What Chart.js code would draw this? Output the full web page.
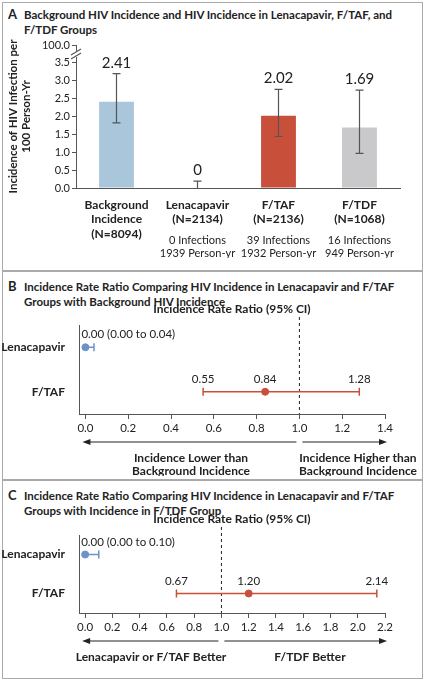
<!DOCTYPE html>
<html><head><meta charset="utf-8">
<script src="https://cdn.jsdelivr.net/npm/chart.js@4/dist/chart.umd.min.js"></script>
<style>
body{margin:0;background:#fff;font-family:Lato,sans-serif;color:#222}
#fig{position:relative;width:425px;height:680px}
.frame{position:absolute;left:2px;width:419px;border:1px solid #aaa}
.ttl{position:absolute;left:8px;font-size:11.5px;font-weight:bold;line-height:15px;white-space:nowrap}
.ttl span{display:inline-block;width:16px;font-size:13px}
.ttl div{margin-left:16px}
.box{position:absolute;left:0;width:425px}
</style></head><body>
<div id="fig">
<div class="frame" style="top:2px;height:267px"></div>
<div class="frame" style="top:271px;height:207px"></div>
<div class="frame" style="top:480px;height:197px"></div>
<div class="ttl" style="top:7px"><span>A</span>Background HIV Incidence and HIV Incidence in Lenacapavir, F/TAF, and<div>F/TDF Groups</div></div>
<div class="ttl" style="top:279px"><span>B</span>Incidence Rate Ratio Comparing HIV Incidence in Lenacapavir and F/TAF<div>Groups with Background HIV Incidence</div></div>
<div class="ttl" style="top:488px"><span>C</span>Incidence Rate Ratio Comparing HIV Incidence in Lenacapavir and F/TAF<div>Groups with Incidence in F/TDF Group</div></div>
<div class="box" style="top:30px;height:228px"><canvas id="chartA"></canvas></div>
<div class="box" style="top:300px;height:176px"><canvas id="chartB"></canvas></div>
<div class="box" style="top:510px;height:165px"><canvas id="chartC"></canvas></div>
</div>
<script>
// panel A
const groups = [['Background', 'Incidence', '(N=8094)'], ['Lenacapavir', '(N=2134)'], ['F/TAF', '(N=2136)'], ['F/TDF', '(N=1068)']];
const incidence = [2.41, 0, 2.02, 1.69];
const ciLow = [1.82, 0, 1.44, 0.97];
const ciHigh = [3.20, 0.19, 2.76, 2.74];
const barColors = ['#a9c6da', '#ffffff', '#c8503a', '#c9c9cb'];
const infections = [null, ['0 Infections', '1939 Person-yr'], ['39 Infections', '1932 Person-yr'], ['16 Infections', '949 Person-yr']];
const yTicksA = [0, 0.5, 1.0, 1.5, 2.0, 2.5, 3.0, 3.5];
const breakTop = 4.0; // shown as 100.0

// panels B and C
const rows = ['Lenacapavir', 'F/TAF'];
const irrB = [0.00, 0.84], lowB = [0.00, 0.55], highB = [0.04, 1.28];
const irrC = [0.00, 1.20], lowC = [0.00, 0.67], highC = [0.10, 2.14];
const rowColors = ['#6b93c8', '#c8503a'];

const FONT = 'Lato, sans-serif';
const INK = '#222', AXIS = '#555';
Chart.defaults.font.family = FONT;
Chart.defaults.color = INK;
Chart.defaults.animation = false;

const barExtras = {
  id: 'barExtras',
  afterDatasetsDraw(chart) {
    const { ctx, scales: { x, y } } = chart;
    ctx.save();
    ctx.strokeStyle = '#555'; ctx.lineWidth = 1.2;
    incidence.forEach((v, i) => {
      const px = x.getPixelForValue(i);
      const yl = y.getPixelForValue(ciLow[i]), yh = y.getPixelForValue(ciHigh[i]);
      ctx.beginPath();
      ctx.moveTo(px, yl); ctx.lineTo(px, yh);
      ctx.moveTo(px - 4, yh); ctx.lineTo(px + 4, yh);
      if (ciLow[i] > 0) { ctx.moveTo(px - 4, yl); ctx.lineTo(px + 4, yl); }
      ctx.stroke();
      ctx.fillStyle = INK; ctx.font = '15px ' + FONT; ctx.textAlign = 'center';
      ctx.fillText(i === 1 ? '0' : v.toFixed(2), px, yh - 6);
      if (infections[i]) {
        ctx.font = '11px ' + FONT;
        infections[i].forEach((t, k) => ctx.fillText(t, px, chart.chartArea.bottom + 56 + k * 13));
      }
    });
    // axis break
    const yb = y.getPixelForValue(3.75), xa = x.left;
    ctx.fillStyle = '#fff'; ctx.fillRect(xa - 4, yb - 3, 8, 6);
    ctx.beginPath();
    ctx.moveTo(xa - 5, yb + 1); ctx.lineTo(xa + 5, yb - 5);
    ctx.moveTo(xa - 5, yb + 5); ctx.lineTo(xa + 5, yb - 1);
    ctx.stroke();
    ctx.restore();
  }
};

new Chart(document.getElementById('chartA'), {
  type: 'bar',
  plugins: [barExtras],
  data: {
    labels: groups,
    datasets: [{ data: incidence, backgroundColor: barColors, barPercentage: 0.43, categoryPercentage: 1 }]
  },
  options: {
    responsive: true, maintainAspectRatio: false,
    layout: { padding: { top: 15, right: 25, left: 6, bottom: 0 } },
    plugins: { legend: { display: false }, tooltip: { enabled: false } },
    scales: {
      x: {
        grid: { display: false },
        border: { color: AXIS },
        ticks: { font: { size: 12, weight: 'bold' }, color: INK, padding: 2 },
        afterFit: s => { s.height = 70; }
      },
      y: {
        min: 0, max: breakTop,
        afterBuildTicks: s => { s.ticks = yTicksA.concat([breakTop]).map(v => ({ value: v })); },
        ticks: { font: { size: 11 }, color: INK, padding: 2,
          callback: v => v === breakTop ? '100.0' : v.toFixed(1) },
        grid: { drawOnChartArea: false, drawTicks: true, tickLength: 4, color: AXIS },
        border: { color: AXIS },
        title: { display: true, text: ['Incidence of HIV Infection per', '100 Person-Yr'],
          font: { size: 11.5, weight: 'bold' }, color: INK, padding: 0 },
        afterFit: s => { s.width = 70; }
      }
    }
  }
});

function forestPlugin(lowArr, highArr, estArr, labelRows, leftText, rightText) {
  return {
    id: 'forest',
    afterDatasetsDraw(chart) {
      const { ctx, chartArea, scales: { x, y } } = chart;
      ctx.save();
      // reference line at 1.0
      const x1 = x.getPixelForValue(1);
      ctx.strokeStyle = '#222'; ctx.lineWidth = 1; ctx.setLineDash([3, 3]);
      ctx.beginPath(); ctx.moveTo(x1, chartArea.top - 8); ctx.lineTo(x1, chartArea.bottom); ctx.stroke();
      ctx.setLineDash([]);
      ctx.font = 'bold 12px ' + FONT; ctx.fillStyle = INK; ctx.textAlign = 'center';
      ctx.fillText('Incidence Rate Ratio (95% CI)', (chartArea.left + chartArea.right) / 2, chartArea.top - 12);
      rows.forEach((r, i) => {
        const py = y.getPixelForValue(i);
        const xl = x.getPixelForValue(lowArr[i]), xh = x.getPixelForValue(highArr[i]);
        ctx.strokeStyle = rowColors[i]; ctx.lineWidth = 1.5;
        ctx.beginPath(); ctx.moveTo(xl, py); ctx.lineTo(xh, py);
        ctx.moveTo(xh, py - 4); ctx.lineTo(xh, py + 4);
        if (lowArr[i] > 0) { ctx.moveTo(xl, py - 4); ctx.lineTo(xl, py + 4); }
        ctx.stroke();
        ctx.font = '11.5px ' + FONT; ctx.fillStyle = INK;
        labelRows[i].forEach(([v, t]) => {
          ctx.textAlign = i === 0 ? 'left' : 'center';
          const px = x.getPixelForValue(v);
          ctx.fillText(t, i === 0 ? px - 4 : px, py - 9);
        });
      });
      // arrows
      const ay = chartArea.bottom + 28;
      const ax0 = x.getPixelForValue(0) - 3, ax1 = x.right + 2;
      ctx.strokeStyle = '#222'; ctx.fillStyle = '#222'; ctx.lineWidth = 1;
      ctx.beginPath(); ctx.moveTo(ax0 + 6, ay); ctx.lineTo(x1 - 3, ay);
      ctx.moveTo(x1 + 3, ay); ctx.lineTo(ax1 - 6, ay); ctx.stroke();
      ctx.beginPath(); ctx.moveTo(ax0, ay); ctx.lineTo(ax0 + 8, ay - 3); ctx.lineTo(ax0 + 8, ay + 3); ctx.fill();
      ctx.beginPath(); ctx.moveTo(ax1, ay); ctx.lineTo(ax1 - 8, ay - 3); ctx.lineTo(ax1 - 8, ay + 3); ctx.fill();
      ctx.font = 'bold 12px ' + FONT; ctx.fillStyle = INK; ctx.textAlign = 'center';
      leftText.lines.forEach((t, k) => ctx.fillText(t, leftText.x, ay + 20 + k * 13));
      rightText.lines.forEach((t, k) => ctx.fillText(t, rightText.x, ay + 20 + k * 13));
      ctx.restore();
    }
  };
}

function forest(id, est, xMax, xMin, step, plugin) {
  new Chart(document.getElementById(id), {
    type: 'line',
    plugins: [plugin],
    data: {
      labels: rows,
      datasets: [{
        data: rows.map((r, i) => ({ x: est[i], y: r })),
        showLine: false, pointRadius: 3.5, pointBackgroundColor: rowColors, pointBorderColor: rowColors
      }]
    },
    options: {
      responsive: true, maintainAspectRatio: false,
      layout: { padding: { top: 25, right: 40, left: 0, bottom: 0 } },
      plugins: { legend: { display: false }, tooltip: { enabled: false } },
      scales: {
        x: {
          type: 'linear', min: xMin, max: xMax,
          afterBuildTicks: s => {
            const t = [];
            for (let v = 0; v <= xMax + 1e-9; v += step) t.push({ value: Math.round(v * 10) / 10 });
            s.ticks = t;
          },
          ticks: { font: { size: 11.5 }, color: INK, padding: 2, callback: v => v.toFixed(1) },
          grid: { drawOnChartArea: false, drawTicks: true, tickLength: 5, color: AXIS },
          border: { color: AXIS },
          afterFit: s => { s.height = 62; }
        },
        y: {
          type: 'category', offset: true,
          ticks: { font: { size: 12, weight: 'bold' }, color: INK, padding: 6 },
          grid: { display: false },
          border: { color: AXIS },
          afterFit: s => { s.width = 79; }
        }
      }
    }
  });
}

forest('chartB', irrB, 1.4, -0.03, 0.2, forestPlugin(lowB, highB, irrB,
  [[[0, '0.00 (0.00 to 0.04)']], [[0.55, '0.55'], [0.84, '0.84'], [1.28, '1.28']]],
  { x: 191, lines: ['Incidence Lower than', 'Background Incidence'] },
  { x: 358, lines: ['Incidence Higher than', 'Background Incidence'] }));

forest('chartC', irrC, 2.2, -0.045, 0.2, forestPlugin(lowC, highC, irrC,
  [[[0, '0.00 (0.00 to 0.10)']], [[0.67, '0.67'], [1.20, '1.20'], [2.14, '2.14']]],
  { x: 151, lines: ['Lenacapavir or F/TAF Better'] },
  { x: 310, lines: ['F/TDF Better'] }));
</script>
</body></html>
